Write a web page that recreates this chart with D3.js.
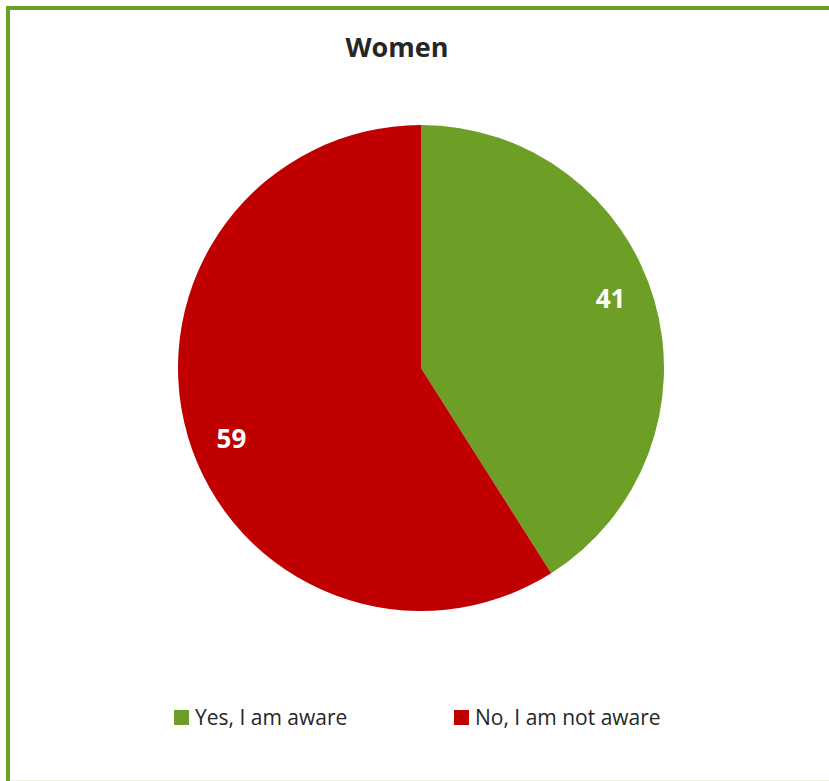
<!DOCTYPE html>
<html><head><meta charset="utf-8">
<script src="https://cdn.jsdelivr.net/npm/d3@7"></script>
<style>body{margin:0;background:#fff}svg{display:block}</style>
</head><body>
<script>
const categories = ["Yes, I am aware", "No, I am not aware"];
const values = [41, 59];
const colors = ["#6d9f27", "#c00000"];
const title = "Women";

const W = 829, H = 781;
const svg = d3.select("body").append("svg").attr("width", W).attr("height", H);
svg.append("line").attr("x1", 8).attr("x2", W).attr("y1", 780.5).attr("y2", 780.5)
  .attr("stroke", "#eaf2df").attr("stroke-width", 1);
svg.append("rect").attr("x", 8).attr("y", 8).attr("width", 840).attr("height", 800)
  .attr("fill", "none").attr("stroke", "#6d9f27").attr("stroke-width", 4);

svg.append("text").attr("x", 397).attr("y", 57).attr("text-anchor", "middle")
  .attr("font-family", "Open Sans, sans-serif").attr("font-weight", "bold").attr("font-size", 27)
  .attr("fill", "#262626").text(title);

const cx = 421, cy = 368, r = 243;
const pie = d3.pie().sort(null).value(d => d)(values);
const arc = d3.arc().innerRadius(0).outerRadius(r);
const lr = 202, shift = -0.07;
const g = svg.append("g").attr("transform", `translate(${cx},${cy})`);
g.selectAll("path").data(pie).join("path").attr("d", arc).attr("fill", (d, i) => colors[i]);
g.selectAll("text").data(pie).join("text")
  .each(function(d) {
    const a = (d.startAngle + d.endAngle) / 2 + shift;
    d3.select(this).attr("x", Math.sin(a) * lr).attr("y", -Math.cos(a) * lr);
  })
  .attr("text-anchor", "middle").attr("dominant-baseline", "central")
  .attr("font-family", "Open Sans, sans-serif").attr("font-weight", "bold").attr("font-size", 26)
  .attr("fill", "#fff").text(d => d.data);

const legX = [174, 454];
const lg = svg.append("g");
categories.forEach((c, i) => {
  lg.append("rect").attr("x", legX[i]).attr("y", 710).attr("width", 15).attr("height", 15).attr("fill", colors[i]);
  lg.append("text").attr("x", legX[i] + 21).attr("y", 725)
    .attr("font-family", "Open Sans, sans-serif").attr("font-size", 21).attr("fill", "#262626").text(c);
});
</script>
</body></html>
